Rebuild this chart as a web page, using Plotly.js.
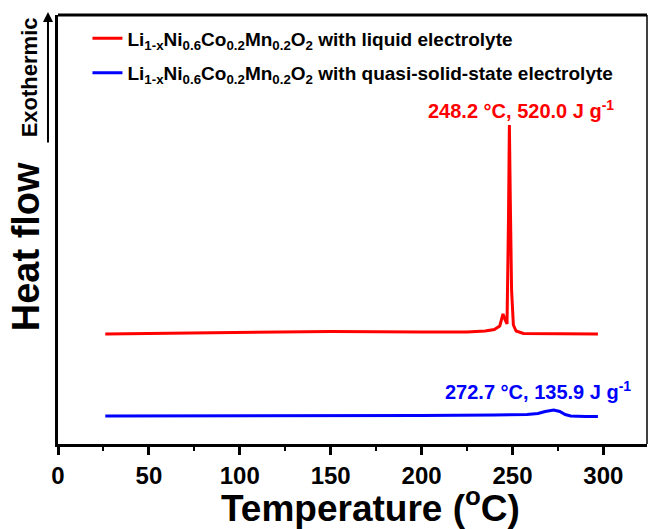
<!DOCTYPE html>
<html>
<head>
<meta charset="utf-8">
<script src="https://cdn.plot.ly/plotly-3.0.1.min.js"></script>
<style>html,body{margin:0;padding:0;background:#fff;}#chart{width:648px;height:529px;}</style>
</head>
<body>
<div id="chart"></div>
<script>
// Liquid electrolyte DSC curve (temperature °C, heat flow a.u.)
const liquidT = [26, 60, 100, 150, 200, 225, 235, 240, 243, 244.8, 246, 247, 247.8, 248.3, 248.8, 249.5, 250.5, 252, 256, 275, 297];
const liquidHF = [110, 110.5, 111.5, 112.5, 112, 112, 113, 114.5, 118, 130, 124, 120, 224, 319, 244, 154, 119, 113, 110.5, 110, 110];
// Quasi-solid-state electrolyte DSC curve
const solidT = [26, 100, 150, 200, 240, 258, 264, 268, 272.7, 276, 279, 282, 290, 297];
const solidHF = [28, 28, 28.5, 28.5, 29, 29.5, 30.5, 32.5, 34, 32.5, 29.5, 28, 27.5, 27.5];
const seriesNames = [
  'Li<sub>1-x</sub>Ni<sub>0.6</sub>Co<sub>0.2</sub>Mn<sub>0.2</sub>O<sub>2</sub> with liquid electrolyte',
  'Li<sub>1-x</sub>Ni<sub>0.6</sub>Co<sub>0.2</sub>Mn<sub>0.2</sub>O<sub>2</sub> with quasi-solid-state electrolyte'
];
const peakLabels = ['248.2 °C, 520.0 J g<sup>-1</sup>', '272.7 °C, 135.9 J g<sup>-1</sup>'];
const xTicks = [0, 50, 100, 150, 200, 250, 300];
const xTitle = 'Temperature (<sup>o</sup>C)';

const FONT = 'Arial, "Liberation Sans", sans-serif';

const traces = [
  {x: liquidT, y: liquidHF, type: 'scatter', mode: 'lines', name: seriesNames[0], legendgroup: 'a',
   line: {color: '#ff0000', width: 3}},
  {x: solidT, y: solidHF, type: 'scatter', mode: 'lines', name: seriesNames[1], legendgroup: 'b',
   line: {color: '#0000ff', width: 3}}
];

const layout = {
  width: 648, height: 529,
  margin: {l: 58, r: 1, t: 15, b: 85},
  paper_bgcolor: '#fff', plot_bgcolor: '#fff',
  font: {family: FONT, color: '#000'},
  showlegend: true,
  legend: {x: 0.05, y: 0.99, xanchor: 'left', yanchor: 'top', bgcolor: 'rgba(0,0,0,0)',
           font: {family: FONT, size: 19, color: '#000', weight: 'bold'}, tracegroupgap: 7},
  xaxis: {
    range: [0, 324], tickvals: xTicks, ticktext: xTicks.map(String),
    showgrid: false, zeroline: false, showline: true, linewidth: 3, linecolor: '#000',
    ticks: 'outside', ticklen: 8, tickwidth: 3, tickcolor: '#000',
    minor: {dtick: 25, tick0: 0, ticks: 'outside', ticklen: 4, tickwidth: 2, tickcolor: '#000'},
    tickfont: {family: FONT, size: 24, weight: 'bold'}
  },
  yaxis: {
    range: [0, 429], showticklabels: false, ticks: '', showgrid: false, zeroline: false,
    showline: true, linewidth: 3, linecolor: '#000'
  },
  shapes: [
    {type: 'line', xref: 'paper', yref: 'paper', x0: 0, x1: 1, y0: 1, y1: 1, line: {color: '#000', width: 3}},
    {type: 'line', xref: 'paper', yref: 'paper', x0: 1, x1: 1, y0: 0, y1: 1, line: {color: '#000', width: 1.5}}
  ],
  annotations: [
    {x: 248.2, y: 319, xref: 'x', yref: 'y', text: peakLabels[0], showarrow: false,
     yanchor: 'middle', yshift: 16, xanchor: 'center', xshift: 12,
     font: {family: FONT, size: 20, color: '#ff0000', weight: 'bold'}},
    {x: 272.7, y: 34, xref: 'x', yref: 'y', text: peakLabels[1], showarrow: false,
     yanchor: 'middle', yshift: 20, xanchor: 'center', xshift: -16,
     font: {family: FONT, size: 20, color: '#0000ff', weight: 'bold'}},
    {x: 0.53, y: -0.144, xref: 'paper', yref: 'paper', text: xTitle, showarrow: false,
     xanchor: 'center', yanchor: 'middle',
     font: {family: FONT, size: 37, color: '#000', weight: 'bold'}},
    {x: -0.054, y: 0.459, xref: 'paper', yref: 'paper', text: 'Heat flow', showarrow: false,
     textangle: -90, xanchor: 'center', yanchor: 'middle',
     font: {family: FONT, size: 38, color: '#000', weight: 'bold'}},
    {x: -0.049, y: 0.855, xref: 'paper', yref: 'paper', text: 'Exothermic', showarrow: false,
     textangle: -90, xanchor: 'center', yanchor: 'middle',
     font: {family: FONT, size: 22, color: '#000', weight: 'bold'}},
    {x: -0.017, y: 1.007, xref: 'paper', yref: 'paper', text: '', showarrow: true,
     ax: 0, ay: 132, arrowhead: 2, arrowsize: 1, arrowwidth: 2, arrowcolor: '#000'}
  ]
};

Plotly.newPlot('chart', traces, layout, {staticPlot: true, displayModeBar: false});
</script>
</body>
</html>
